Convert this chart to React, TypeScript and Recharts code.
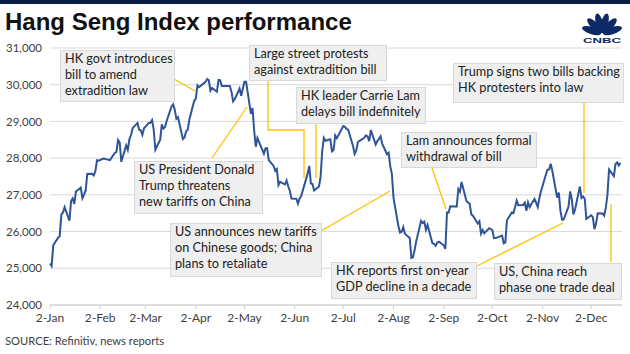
import { LineChart, Line, XAxis, YAxis, CartesianGrid } from "recharts"

// Hang Seng daily closes, 2019
const dates = [
  "01-02", "01-03", "01-04", "01-07", "01-08", "01-09", "01-10", "01-11", "01-14", "01-15",
  "01-16", "01-17", "01-18", "01-21", "01-22", "01-23", "01-24", "01-25", "01-28", "01-29",
  "01-30", "01-31", "02-01", "02-04", "02-08", "02-11", "02-12", "02-13", "02-14", "02-15",
  "02-18", "02-19", "02-20", "02-21", "02-22", "02-25", "02-26", "02-27", "02-28", "03-01",
  "03-04", "03-05", "03-06", "03-07", "03-08", "03-11", "03-12", "03-13", "03-14", "03-15",
  "03-18", "03-19", "03-20", "03-21", "03-22", "03-25", "03-26", "03-27", "03-28", "03-29",
  "04-01", "04-02", "04-03", "04-04", "04-08", "04-09", "04-10", "04-11", "04-12", "04-15",
  "04-16", "04-17", "04-18", "04-23", "04-24", "04-25", "04-26", "04-29", "04-30", "05-02",
  "05-03", "05-06", "05-07", "05-08", "05-09", "05-10", "05-14", "05-15", "05-16", "05-17",
  "05-20", "05-21", "05-22", "05-23", "05-24", "05-27", "05-28", "05-29", "05-30", "05-31",
  "06-03", "06-04", "06-05", "06-06", "06-10", "06-11", "06-12", "06-13", "06-14", "06-17",
  "06-18", "06-19", "06-20", "06-21", "06-24", "06-25", "06-26", "06-27", "06-28", "07-02",
  "07-03", "07-04", "07-05", "07-08", "07-09", "07-10", "07-11", "07-12", "07-15", "07-16",
  "07-17", "07-18", "07-19", "07-22", "07-23", "07-24", "07-25", "07-26", "07-29", "07-30",
  "07-31", "08-01", "08-02", "08-05", "08-06", "08-07", "08-08", "08-09", "08-12", "08-13",
  "08-14", "08-15", "08-16", "08-19", "08-20", "08-21", "08-22", "08-23", "08-26", "08-27",
  "08-28", "08-29", "08-30", "09-02", "09-03", "09-04", "09-05", "09-06", "09-09", "09-10",
  "09-11", "09-12", "09-13", "09-16", "09-17", "09-18", "09-19", "09-20", "09-23", "09-24",
  "09-25", "09-26", "09-27", "09-30", "10-02", "10-03", "10-04", "10-08", "10-09", "10-10",
  "10-11", "10-14", "10-15", "10-16", "10-17", "10-18", "10-21", "10-22", "10-23", "10-24",
  "10-25", "10-28", "10-29", "10-30", "10-31", "11-01", "11-04", "11-05", "11-06", "11-07",
  "11-08", "11-11", "11-12", "11-13", "11-14", "11-15", "11-18", "11-19", "11-20", "11-21",
  "11-22", "11-25", "11-26", "11-27", "11-28", "11-29", "12-02", "12-03", "12-04", "12-05",
  "12-06", "12-09", "12-10", "12-11", "12-12", "12-13", "12-16", "12-17", "12-18", "12-19",
  "12-20",
]

const closes = [
  25130, 25064, 25626, 25835, 25875, 26462, 26521, 26667, 26298, 26830,
  26902, 26755, 27090, 27196, 26910, 27008, 27120, 27569, 27576, 27531,
  27642, 27942, 27930, 27990, 27946, 28143, 28171, 28497, 28432, 27900,
  28347, 28228, 28514, 28629, 28816, 28959, 28772, 28757, 28633, 28812,
  28959, 28961, 29037, 28779, 28228, 28503, 28920, 28807, 28851, 29012,
  29409, 29466, 29320, 29071, 29113, 28523, 28566, 28728, 28775, 29051,
  29562, 29624, 29986, 29936, 30077, 30157, 30119, 29839, 29909, 29810,
  30130, 30124, 29963, 29963, 29805, 29549, 29605, 29892, 29699, 30081,
  30082, 29209, 29363, 28752, 28311, 28550, 28122, 28268, 28275, 27946,
  27788, 27657, 27705, 27267, 27353, 27288, 27391, 27235, 27114, 26901,
  26894, 26761, 26895, 26965, 27578, 27789, 27308, 27294, 27118, 27227,
  27498, 28202, 28550, 28473, 28513, 28185, 28221, 28621, 28542, 28875,
  28855, 28795, 28774, 28331, 28116, 28204, 28431, 28471, 28554, 28619,
  28593, 28461, 28765, 28371, 28466, 28524, 28594, 28397, 28106, 28146,
  27777, 27565, 26918, 26151, 25976, 25997, 26120, 25939, 25824, 25281,
  25302, 25495, 25734, 26291, 26231, 26270, 26048, 26179, 25680, 25664,
  25615, 25703, 25724, 25626, 25527, 26523, 26515, 26690, 26681, 26683,
  27159, 27087, 27352, 26832, 26790, 26754, 26469, 26435, 26222, 26281,
  25945, 26041, 25955, 26092, 26042, 25821, 25822, 25893, 25682, 25707,
  26308, 26521, 26503, 26665, 26848, 26720, 26725, 26786, 26566, 26797,
  26667, 26891, 26786, 26667, 26906, 27100, 27547, 27683, 27688, 27847,
  27651, 26926, 27065, 26571, 26323, 26326, 26681, 27093, 26889, 26466,
  26595, 27227, 26913, 26954, 26893, 26346, 26444, 26391, 26062, 26218,
  26498, 26494, 26436, 26645, 26994, 27687, 27508, 27843, 27884, 27800,
  27871,
]

const tickDates = ["01-02", "02-02", "03-02", "04-02", "05-02", "06-02", "07-02", "08-02", "09-02", "10-02", "11-02", "12-02"]
const tickLabels = ["2-Jan", "2-Feb", "2-Mar", "2-Apr", "2-May", "2-Jun", "2-Jul", "2-Aug", "2-Sep", "2-Oct", "2-Nov", "2-Dec"]
const yTicks = [24000, 25000, 26000, 27000, 28000, 29000, 30000, 31000]

const dayOf = (md: string) => {
  const [m, d] = md.split("-").map(Number)
  return (Date.UTC(2019, m - 1, d) - Date.UTC(2019, 0, 2)) / 86400000
}

const data = dates.map((md, i) => ({ day: dayOf(md), close: closes[i] }))
const xTicks = tickDates.map(dayOf)

const FONT = "Lato, 'Open Sans', sans-serif"
const GOLD = "#ffc000"

const notes = [
  { x: 60, y: 50, w: 114, h: 51, lines: ["HK govt introduces", "bill to amend", "extradition law"] },
  { x: 249, y: 45, w: 137, h: 35, lines: ["Large street protests", "against extradition bill"] },
  { x: 296, y: 87, w: 129, h: 36, lines: ["HK leader Carrie Lam", "delays bill indefinitely"] },
  { x: 134, y: 161, w: 128, h: 52, lines: ["US President Donald", "Trump threatens", "new tariffs on China"] },
  { x: 170, y: 223, w: 151, h: 53, lines: ["US announces new tariffs", "on Chinese goods; China", "plans to retaliate"] },
  { x: 401, y: 132, w: 135, h: 35, lines: ["Lam announces formal", "withdrawal of bill"] },
  { x: 331, y: 262, w: 145, h: 36, lines: ["HK reports first on-year", "GDP decline in a decade"] },
  { x: 453, y: 63, w: 170, h: 39, lines: ["Trump signs two bills backing", "HK protesters into law"] },
  { x: 494, y: 263, w: 127, h: 36, lines: ["US, China reach", "phase one trade deal"] },
]

const callouts = [
  "174,79 195,91",
  "268,81 268,130 304,130 304,178",
  "316,124 316,178",
  "212,158 247,107",
  "321,231 390,191",
  "432,168 446,209",
  "477,266 563,223",
  "584,103 584,193",
  "611,204 611,262",
]

function Logo() {
  const cx = 602
  const cy = 34
  const angles = [-72, -43, -14, 14, 43, 72]
  return (
    <g fill="#0d2a66">
      {angles.map((a) => (
        <ellipse key={a} cx={cx} cy={cy - 11} rx={3.6} ry={10} transform={`rotate(${a} ${cx} ${cy})`} />
      ))}
      <text x={583} y={42.5} fontFamily="Arial, sans-serif" fontWeight="bold" fontSize={8} textLength={38} lengthAdjust="spacingAndGlyphs">
        CNBC
      </text>
    </g>
  )
}

export default function App() {
  return (
    <div style={{ position: "fixed", left: 0, top: 0, width: 630, height: 354, background: "#fff" }}>
      <LineChart width={630} height={354} data={data} margin={{ top: 48, right: 8, bottom: 19, left: 0 }}>
        <CartesianGrid vertical={false} stroke="#d9d9d9" />
        <XAxis
          dataKey="day"
          type="number"
          domain={[0, 353]}
          ticks={xTicks}
          tickFormatter={(v) => tickLabels[xTicks.indexOf(v)] ?? ""}
          height={30}
          stroke="#d0d0d0"
          tickSize={4}
          tickMargin={4}
          tick={{ fill: "#404040", fontSize: 12, fontFamily: FONT }}
        />
        <YAxis
          domain={[24000, 31000]}
          ticks={yTicks}
          width={50}
          axisLine={false}
          tickLine={false}
          tickMargin={2}
          tickFormatter={(v) => Number(v).toLocaleString("en-US")}
          tick={{ fill: "#404040", fontSize: 11.5, fontFamily: FONT }}
        />
        <Line
          dataKey="close"
          type="linear"
          stroke="#2f5597"
          strokeWidth={2}
          dot={false}
          isAnimationActive={false}
        />
      </LineChart>
      <svg width={630} height={354} style={{ position: "absolute", left: 0, top: 0, pointerEvents: "none" }}>
        <rect x={0} y={0} width={630} height={4} fill="#0b1c48" />
        <text x={5} y={30} fontFamily="'Liberation Sans', Arial, sans-serif" fontWeight="bold" fontSize={24} fill="#111">
          Hang Seng Index performance
        </text>
        <Logo />
        {callouts.map((p) => (
          <polyline key={p} points={p} fill="none" stroke={GOLD} strokeWidth={1.3} />
        ))}
        {notes.map((n) => (
          <g key={n.lines[0]}>
            <rect x={n.x + 0.5} y={n.y + 0.5} width={n.w} height={n.h} fill="#efefef" stroke="#d9d9d9" />
            {n.lines.map((t, i) => (
              <text key={t} x={n.x + 5} y={n.y + 13 + i * 16} fontFamily={FONT} fontSize={12.7} fill="#222">
                {t}
              </text>
            ))}
          </g>
        ))}
        <text x={5} y={345} fontFamily={FONT} fontSize={11.2} fill="#404040">
          SOURCE: Refinitiv, news reports
        </text>
      </svg>
    </div>
  )
}
